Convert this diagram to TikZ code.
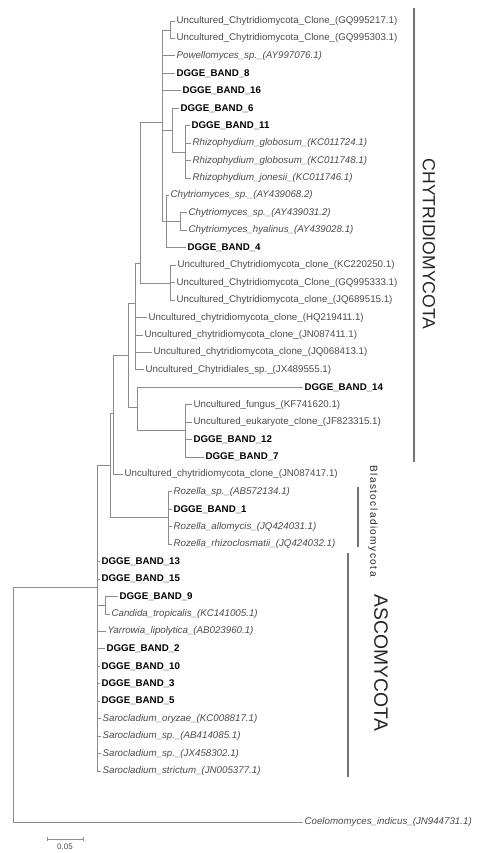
\documentclass[tikz,border=0pt]{standalone}
\usepackage{fontspec}
\setmainfont{Liberation Sans}
\newfontfamily\spacedsf[LetterSpace=14]{Liberation Sans}

\begin{document}
\begin{tikzpicture}[x=0.75pt,y=-0.75pt,
  br/.style={draw=black!45,line width=0.6pt},
  leaf/.style={anchor=west,inner sep=1pt,font=\fontsize{7.3}{8}\selectfont,text=black!70},
  sp/.style={leaf,font=\fontsize{7.3}{8}\selectfont\itshape},
  band/.style={leaf,font=\fontsize{7.3}{8}\selectfont\bfseries,text=black},
  clade/.style={draw=black!55,line width=0.8pt},
  phylum/.style={rotate=-90,inner sep=0pt,text=black!85}]
\path[use as bounding box,fill=white] (0,0) rectangle (478,853);
% leaves, top to bottom
\foreach \n/\x/\sty/\lbl in {
  1/175/leaf/{Uncultured\_Chytridiomycota\_Clone\_(GQ995217.1)},
  2/175/leaf/{Uncultured\_Chytridiomycota\_Clone\_(GQ995303.1)},
  3/175/sp/{Powellomyces\_sp.\_(AY997076.1)},
  4/175/band/{DGGE\_BAND\_8},
  5/181/band/{DGGE\_BAND\_16},
  6/179/band/{DGGE\_BAND\_6},
  7/190/band/{DGGE\_BAND\_11},
  8/191/sp/{Rhizophydium\_globosum\_(KC011724.1)},
  9/191/sp/{Rhizophydium\_globosum\_(KC011748.1)},
  10/191/sp/{Rhizophydium\_jonesii\_(KC011746.1)},
  11/169/sp/{Chytriomyces\_sp.\_(AY439068.2)},
  12/187/sp/{Chytriomyces\_sp.\_(AY439031.2)},
  13/187/sp/{Chytriomyces\_hyalinus\_(AY439028.1)},
  14/186/band/{DGGE\_BAND\_4},
  15/176/leaf/{Uncultured\_Chytridiomycota\_clone\_(KC220250.1)},
  16/175/leaf/{Uncultured\_Chytridiomycota\_Clone\_(GQ995333.1)},
  17/175/leaf/{Uncultured\_Chytridiomycota\_clone\_(JQ689515.1)},
  18/147/leaf/{Uncultured\_chytridiomycota\_clone\_(HQ219411.1)},
  19/143/leaf/{Uncultured\_chytridiomycota\_clone\_(JN087411.1)},
  20/152/leaf/{Uncultured\_chytridiomycota\_clone\_(JQ068413.1)},
  21/144/leaf/{Uncultured\_Chytridiales\_sp.\_(JX489555.1)},
  22/303/band/{DGGE\_BAND\_14},
  23/192/leaf/{Uncultured\_fungus\_(KF741620.1)},
  24/192/leaf/{Uncultured\_eukaryote\_clone\_(JF823315.1)},
  25/192/band/{DGGE\_BAND\_12},
  26/204/band/{DGGE\_BAND\_7},
  27/123/leaf/{Uncultured\_chytridiomycota\_clone\_(JN087417.1)},
  28/172/sp/{Rozella\_sp.\_(AB572134.1)},
  29/172/band/{DGGE\_BAND\_1},
  30/172/sp/{Rozella\_allomycis\_(JQ424031.1)},
  31/172/sp/{Rozella\_rhizoclosmatii\_(JQ424032.1)},
  32/100/band/{DGGE\_BAND\_13},
  33/100/band/{DGGE\_BAND\_15},
  34/118/band/{DGGE\_BAND\_9},
  35/110/sp/{Candida\_tropicalis\_(KC141005.1)},
  36/106/sp/{Yarrowia\_lipolytica\_(AB023960.1)},
  37/105/band/{DGGE\_BAND\_2},
  38/100/band/{DGGE\_BAND\_10},
  39/100/band/{DGGE\_BAND\_3},
  40/100/band/{DGGE\_BAND\_5},
  41/101/sp/{Sarocladium\_oryzae\_(KC008817.1)},
  42/101/sp/{Sarocladium\_sp.\_(AB414085.1)},
  43/101/sp/{Sarocladium\_sp.\_(JX458302.1)},
  44/101/sp/{Sarocladium\_strictum\_(JN005377.1)}}
  {\pgfmathsetmacro\yy{21+(\n-1)*17.44}
   \node[\sty] (l\n) at (\x,\yy) {\lbl};}
\node[sp] (og) at (303,822) {Coelomomyces\_indicus\_(JN944731.1)};
% internal nodes
\coordinate (root) at (13,700);
\coordinate (n1) at (97,587);
\coordinate (n2) at (110,465);
\coordinate (n3) at (113,413);
\coordinate (n4) at (128,355);
\coordinate (n5) at (135,303);
\coordinate (n6) at (137,407);
\coordinate (n7) at (185,430);
\coordinate (cb) at (140,263);
\coordinate (c1) at (170,283);
\coordinate (a0) at (162,122);
\coordinate (a1) at (170,30);
\coordinate (a2) at (172,130);
\coordinate (a4) at (185,152);
\coordinate (a3) at (166,221);
\coordinate (a5) at (180,221);
\coordinate (ro) at (168,517);
\coordinate (dd) at (105,605);
% branches
\foreach \p/\c in {root/n1,n1/n2,n1/dd,n2/n3,n2/ro,n3/n4,n4/n5,n4/n6,n6/n7,
  n5/cb,cb/a0,cb/c1,a0/a1,a0/a2,a0/a3,a2/a4,a3/a5}
  \draw[br] (\p) |- (\c);
\foreach \p/\kids in {a1/{1,2},a0/{3,4,5},a2/{6},a4/{7,8,9,10},a3/{11,14},
  a5/{12,13},c1/{15,16,17},n5/{18,19,20,21},n6/{22},n7/{23,24,25,26},n3/{27},
  ro/{28,29,30,31},n1/{32,33,36,37,38,39,40,41,42,43,44},dd/{34,35}}
  \foreach \k in \kids \draw[br] (\p) |- (l\k.west);
\draw[br] (root) |- (og.west);
% clade labels
\draw[clade] (414,8) -- (414,462);
\node[phylum,font=\fontsize{13.2}{14}\selectfont] (chy) at (429,244) {CHYTRIDIOMYCOTA};
\draw[clade] (358,487) -- (358,547);
\node[phylum,font=\spacedsf\fontsize{7.6}{8}\selectfont] (bla) at (373,521) {Blastocladiomycota};
\draw[clade] (348,553) -- (348,777);
\node[phylum,font=\fontsize{14.5}{16}\selectfont] (asc) at (381,663) {ASCOMYCOTA};
% scale bar
\coordinate (sb1) at (47,839);
\coordinate (sb2) at (83,839);
\draw[br] (sb1) -- (sb2);
\draw[br] ([yshift=1.5pt]sb1) -- ([yshift=-1.5pt]sb1);
\draw[br] ([yshift=1.5pt]sb2) -- ([yshift=-1.5pt]sb2);
\node[leaf,anchor=north,font=\fontsize{6}{7}\selectfont] (sbl) at (65,842) {0.05};
\end{tikzpicture}
\end{document}
